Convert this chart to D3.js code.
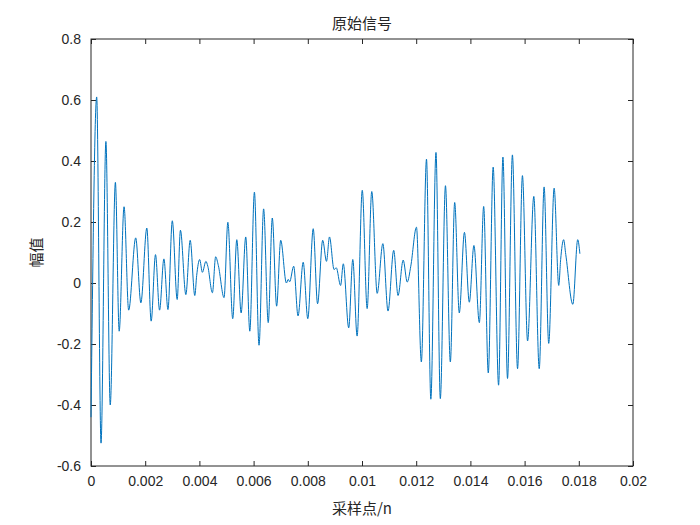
<!DOCTYPE html>
<html>
<head>
<meta charset="utf-8">
<script src="https://cdn.jsdelivr.net/npm/d3@7"></script>
<style>
body { margin: 0; background: #fff; }
</style>
</head>
<body>
<div id="chart"></div>
<script>
// sample times (s) and amplitude at the turning points of the signal
var times = [0, 0.00021, 0.00037, 0.00055, 0.00071, 0.00090, 0.00104, 0.00122, 0.00139, 0.00165,
  0.00184, 0.00206, 0.00222, 0.00238, 0.00253, 0.00269, 0.00284, 0.00300, 0.00318, 0.00330,
  0.00350, 0.00366, 0.00383, 0.00390, 0.00401, 0.00411, 0.00424, 0.00431, 0.00448, 0.00460,
  0.00470, 0.00491, 0.00505, 0.00523, 0.00538, 0.00554, 0.00571, 0.00586, 0.00603, 0.00620,
  0.00637, 0.00654, 0.00669, 0.00685, 0.00700, 0.00721, 0.00728, 0.00733, 0.00748, 0.00764,
  0.00783, 0.00800, 0.00820, 0.00836, 0.00855, 0.00869, 0.00880, 0.00897, 0.00905, 0.00921,
  0.00931, 0.00951, 0.00966, 0.00982, 0.01001, 0.01019, 0.01036, 0.01056, 0.01077, 0.01096,
  0.01117, 0.01133, 0.01152, 0.01167, 0.01180, 0.01201, 0.01219, 0.01238, 0.01254, 0.01273,
  0.01289, 0.01308, 0.01326, 0.01342, 0.01359, 0.01378, 0.01396, 0.01413, 0.01433, 0.01449,
  0.01466, 0.01484, 0.01504, 0.01520, 0.01537, 0.01555, 0.01574, 0.01592, 0.01611, 0.01634,
  0.01654, 0.01672, 0.01689, 0.01709, 0.01726, 0.01733, 0.01744, 0.01752, 0.01778, 0.01796,
  0.01804];
var amps = [-0.44, 0.61, -0.525, 0.464, -0.40, 0.33, -0.158, 0.25, -0.089, 0.148,
  -0.065, 0.18, -0.125, 0.093, -0.089, 0.079, -0.087, 0.204, -0.054, 0.173,
  -0.038, 0.14, -0.041, 0.025, 0.077, 0.035, 0.071, 0.055, -0.032, 0.086,
  0.057, -0.048, 0.199, -0.117, 0.142, -0.098, 0.151, -0.158, 0.298, -0.204,
  0.243, -0.130, 0.213, -0.076, 0.14, 0.0, 0.012, 0.004, 0.055, -0.108,
  0.068, -0.117, 0.178, -0.068, 0.14, 0.071, 0.151, 0.044, 0.05, -0.008,
  0.063, -0.147, 0.077, -0.174, 0.304, -0.084, 0.30, -0.034, 0.129, -0.092,
  0.107, -0.041, 0.075, 0.003, 0.055, 0.183, -0.259, 0.406, -0.381, 0.428,
  -0.379, 0.319, -0.259, 0.264, -0.098, 0.166, -0.063, 0.123, -0.130, 0.251,
  -0.295, 0.38, -0.335, 0.413, -0.313, 0.42, -0.281, 0.352, -0.19, 0.284,
  -0.281, 0.315, -0.198, 0.311, -0.008, 0.077, 0.142, 0.093, -0.07, 0.142,
  0.096];

var xTicks = [0, 0.002, 0.004, 0.006, 0.008, 0.01, 0.012, 0.014, 0.016, 0.018, 0.02];
var yTicks = [-0.6, -0.4, -0.2, 0, 0.2, 0.4, 0.6, 0.8];

var title = "原始信号";
var xLabel = "采样点/n";
var yLabel = "幅值";

var width = 700, height = 525;
var margin = {top: 39, right: 67, bottom: 59, left: 91};
var w = width - margin.left - margin.right;
var h = height - margin.top - margin.bottom;

var svg = d3.select("#chart").append("svg")
  .attr("width", width)
  .attr("height", height);

var g = svg.append("g")
  .attr("transform", "translate(" + margin.left + "," + margin.top + ")");

var x = d3.scaleLinear().domain([0, 0.02]).range([0, w]);
var y = d3.scaleLinear().domain([-0.6, 0.8]).range([h, 0]);

var fmt = function(d){ return d === 0 ? "0" : String(+d.toFixed(3)); };
var tickFont = "Liberation Sans, Arial, sans-serif";

function styleAxis(sel){
  sel.select(".domain").remove();
  sel.selectAll("line").attr("stroke", "#262626");
  sel.selectAll("text")
    .attr("fill", "#262626")
    .style("font-family", tickFont)
    .style("font-size", "14px");
}

g.append("g")
  .attr("transform", "translate(0," + h + ")")
  .call(d3.axisBottom(x).tickValues(xTicks).tickSizeInner(-5).tickSizeOuter(0).tickPadding(10).tickFormat(fmt))
  .call(styleAxis);

g.append("g")
  .call(d3.axisTop(x).tickValues(xTicks).tickSizeInner(-5).tickSizeOuter(0).tickFormat(""))
  .call(styleAxis);

g.append("g")
  .call(d3.axisLeft(y).tickValues(yTicks).tickSizeInner(-5).tickSizeOuter(0).tickPadding(10).tickFormat(fmt))
  .call(styleAxis);

g.append("g")
  .attr("transform", "translate(" + w + ",0)")
  .call(d3.axisRight(y).tickValues(yTicks).tickSizeInner(-5).tickSizeOuter(0).tickFormat(""))
  .call(styleAxis);

g.append("rect")
  .attr("width", w)
  .attr("height", h)
  .attr("fill", "none")
  .attr("stroke", "#262626")
  .attr("stroke-width", 1);

var pts = times.map(function(t, i){ return [t, amps[i]]; });

var line = d3.line()
  .x(function(d){ return x(d[0]); })
  .y(function(d){ return y(d[1]); })
  .curve(d3.curveMonotoneX);

g.append("path")
  .datum(pts)
  .attr("d", line)
  .attr("fill", "none")
  .attr("stroke", "#0072BD")
  .attr("stroke-width", 1);

var cjk = "'Noto Sans CJK SC', sans-serif";

svg.append("text")
  .attr("x", margin.left + w / 2)
  .attr("y", 29)
  .attr("text-anchor", "middle")
  .style("font-family", cjk)
  .style("font-size", "15px")
  .attr("fill", "#262626")
  .text(title);

svg.append("text")
  .attr("x", margin.left + w / 2)
  .attr("y", 514)
  .attr("text-anchor", "middle")
  .style("font-family", cjk)
  .style("font-size", "15px")
  .attr("fill", "#262626")
  .text(xLabel);

svg.append("text")
  .attr("transform", "translate(42," + (margin.top + h / 2) + ") rotate(-90)")
  .attr("text-anchor", "middle")
  .style("font-family", cjk)
  .style("font-size", "15px")
  .attr("fill", "#262626")
  .text(yLabel);
</script>
</body>
</html>
